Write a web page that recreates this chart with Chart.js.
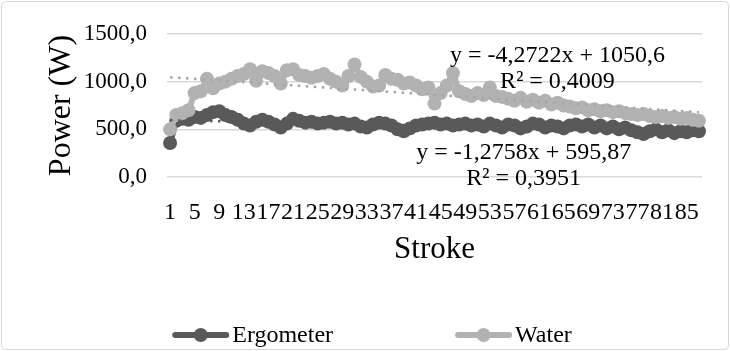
<!DOCTYPE html>
<html>
<head>
<meta charset="utf-8">
<script src="https://cdn.jsdelivr.net/npm/chart.js@4.4.1/dist/chart.umd.min.js"></script>
<style>
  html, body { margin: 0; padding: 0; background: #fff; }
  #wrap { width: 730px; height: 351px; position: relative; }
</style>
</head>
<body>
<div id="wrap"><canvas id="power-chart"></canvas></div>
<script>
// Power (W) per stroke
const ergometer = [
  357, 590, 610, 600, 630, 620, 650, 680, 690, 650,
  630, 600, 560, 540, 580, 600, 580, 550, 520, 560,
  610, 590, 570, 580, 560, 570, 580, 560, 570, 550,
  560, 530, 520, 550, 570, 560, 540, 500, 480, 510,
  540, 550, 560, 570, 550, 560, 540, 550, 560, 540,
  550, 530, 560, 540, 520, 550, 540, 510, 530, 560,
  550, 520, 540, 530, 510, 540, 550, 530, 550, 520,
  540, 510, 530, 500, 520, 490, 470, 450, 480, 500,
  470, 490, 460, 480, 470, 490, 480
];
const water = [
  500, 650, 670, 700, 880, 900, 1030, 930, 980, 1000,
  1030, 1060, 1080, 1130, 1010, 1110, 1090, 1060, 980, 1120,
  1130, 1070, 1060, 1040, 1060, 1080, 1030, 1000, 960, 1060,
  1180, 1050, 1000, 950, 960, 1070, 1030, 1020, 980, 990,
  960, 920, 940, 770, 880, 960, 1090, 900, 870, 850,
  880, 860, 940, 850, 840, 820, 800, 830, 790, 810,
  780, 800, 760, 780, 750, 740, 720, 730, 700, 710,
  690, 700, 680, 690, 670, 660, 650, 660, 640, 630,
  640, 620, 630, 610, 620, 600, 590
];
const strokes = ergometer.map((_, i) => String(i + 1));
const labelEvery = 4;

// linear trendlines: [slope, intercept, R²]
const ergometerFit = [-1.2758, 595.87, 0.3951];
const waterFit = [-4.2722, 1050.6, 0.4009];

const darkGrey = "#595959";
const lightGrey = "#b2b2b2";
const serif = "'Liberation Serif', 'Times New Roman', serif";

const comma = (v) => String(v).replace(".", ",");
const trend = (fit) => strokes.map((s) => fit[0] * Number(s) + fit[1]);

// white background + thin frame
const frame = {
  id: "frame",
  beforeDraw(chart) {
    const ctx = chart.ctx;
    ctx.save();
    ctx.fillStyle = "#fff";
    ctx.fillRect(0, 0, chart.width, chart.height);
    ctx.strokeStyle = "#d9d9d9";
    ctx.lineWidth = 1;
    ctx.beginPath();
    ctx.roundRect(1.5, 1.5, chart.width - 3, chart.height - 3, 4);
    ctx.stroke();
    ctx.restore();
  },
};

// trendline equations, placed in data units
const equations = {
  id: "equations",
  afterDatasetsDraw(chart) {
    const ctx = chart.ctx;
    const x = chart.scales.x;
    const y = chart.scales.y;
    const notes = [
      { fit: waterFit, at: [64, 1270] },
      { fit: ergometerFit, at: [58.5, 255] },
    ];
    ctx.save();
    ctx.font = "24px " + serif;
    ctx.fillStyle = "#000";
    ctx.textAlign = "center";
    ctx.textBaseline = "middle";
    notes.forEach((n) => {
      const px = x.getPixelForValue(n.at[0] - 1);
      const py = y.getPixelForValue(n.at[1]);
      const sign = n.fit[1] < 0 ? " - " : " + ";
      ctx.fillText("y = " + comma(n.fit[0]) + "x" + sign + comma(Math.abs(n.fit[1])), px, py);
      ctx.fillText("R² = " + comma(n.fit[2].toFixed(4)), px, py + 26);
    });
    ctx.restore();
  },
};

// legend row: line sample with marker, then name
const legendRow = {
  id: "legendRow",
  afterDraw(chart) {
    const ctx = chart.ctx;
    const items = chart.data.datasets.slice(0, 2);
    const sample = 57, gap = 3, spacing = 122, yMid = 335;
    ctx.save();
    ctx.font = "24px " + serif;
    const widths = items.map((d) => ctx.measureText(d.label).width);
    const total = widths.reduce((a, w) => a + sample + gap + w, 0) + spacing;
    let cx = (chart.width - total) / 2 + 7;
    items.forEach((d, i) => {
      ctx.strokeStyle = d.borderColor;
      ctx.lineWidth = 6;
      ctx.lineCap = "round";
      ctx.beginPath();
      ctx.moveTo(cx + 3, yMid);
      ctx.lineTo(cx + sample - 3, yMid);
      ctx.stroke();
      ctx.fillStyle = d.borderColor;
      ctx.beginPath();
      ctx.arc(cx + sample / 2, yMid, 7, 0, Math.PI * 2);
      ctx.fill();
      ctx.fillStyle = "#000";
      ctx.textBaseline = "middle";
      ctx.fillText(d.label, cx + sample + gap, yMid + 1);
      cx += sample + gap + widths[i] + spacing;
    });
    ctx.restore();
  },
};

const ctx = document.getElementById("power-chart").getContext("2d");

new Chart(ctx, {
  type: "line",
  data: {
    labels: strokes,
    datasets: [
      {
        label: "Ergometer",
        data: ergometer,
        borderColor: darkGrey,
        backgroundColor: darkGrey,
        borderWidth: 6,
        pointRadius: 7,
        pointBorderWidth: 0,
        order: 3,
      },
      {
        label: "Water",
        data: water,
        borderColor: lightGrey,
        backgroundColor: lightGrey,
        borderWidth: 6,
        pointRadius: 7,
        pointBorderWidth: 0,
        order: 2,
      },
      {
        label: "Linear (Water)",
        data: trend(waterFit),
        borderColor: "#a6a6a6",
        borderWidth: 2.5,
        borderDash: [2.5, 5.5],
        pointRadius: 0,
        order: 1,
      },
      {
        label: "Linear (Ergometer)",
        data: trend(ergometerFit),
        borderColor: darkGrey,
        borderWidth: 2.5,
        borderDash: [2.5, 5.5],
        pointRadius: 0,
        order: 0,
      },
    ],
  },
  options: {
    responsive: true,
    maintainAspectRatio: false,
    animation: false,
    layout: { padding: { top: 34, right: 28, bottom: 74, left: 0 } },
    plugins: {
      legend: { display: false },
      tooltip: { enabled: false },
    },
    scales: {
      x: {
        offset: true,
        grid: { display: false, drawTicks: false },
        border: { display: false },
        ticks: {
          autoSkip: false,
          maxRotation: 0,
          minRotation: 0,
          padding: 21,
          color: "#000",
          font: { family: serif, size: 24 },
          callback: function (value, index) {
            return index % labelEvery === 0 ? this.getLabelForValue(value) : "";
          },
        },
        title: {
          display: true,
          text: "Stroke",
          color: "#000",
          font: { family: serif, size: 31 },
          padding: { top: 0, bottom: 9 },
        },
        afterFit(scale) {
          scale.height = 100;
        },
      },
      y: {
        min: 0,
        max: 1500,
        grid: { color: "#d9d9d9", lineWidth: 1.5, drawTicks: false },
        border: { display: false },
        ticks: {
          stepSize: 500,
          padding: 20,
          color: "#000",
          font: { family: serif, size: 23 },
          callback: (v) => v.toFixed(1).replace(".", ","),
        },
        title: {
          display: true,
          text: "Power (W)",
          color: "#000",
          font: { family: serif, size: 32 },
          padding: { top: 42, bottom: 0 },
        },
        afterFit(scale) {
          scale.width = 167;
        },
      },
    },
  },
  plugins: [frame, equations, legendRow],
});
</script>
</body>
</html>
